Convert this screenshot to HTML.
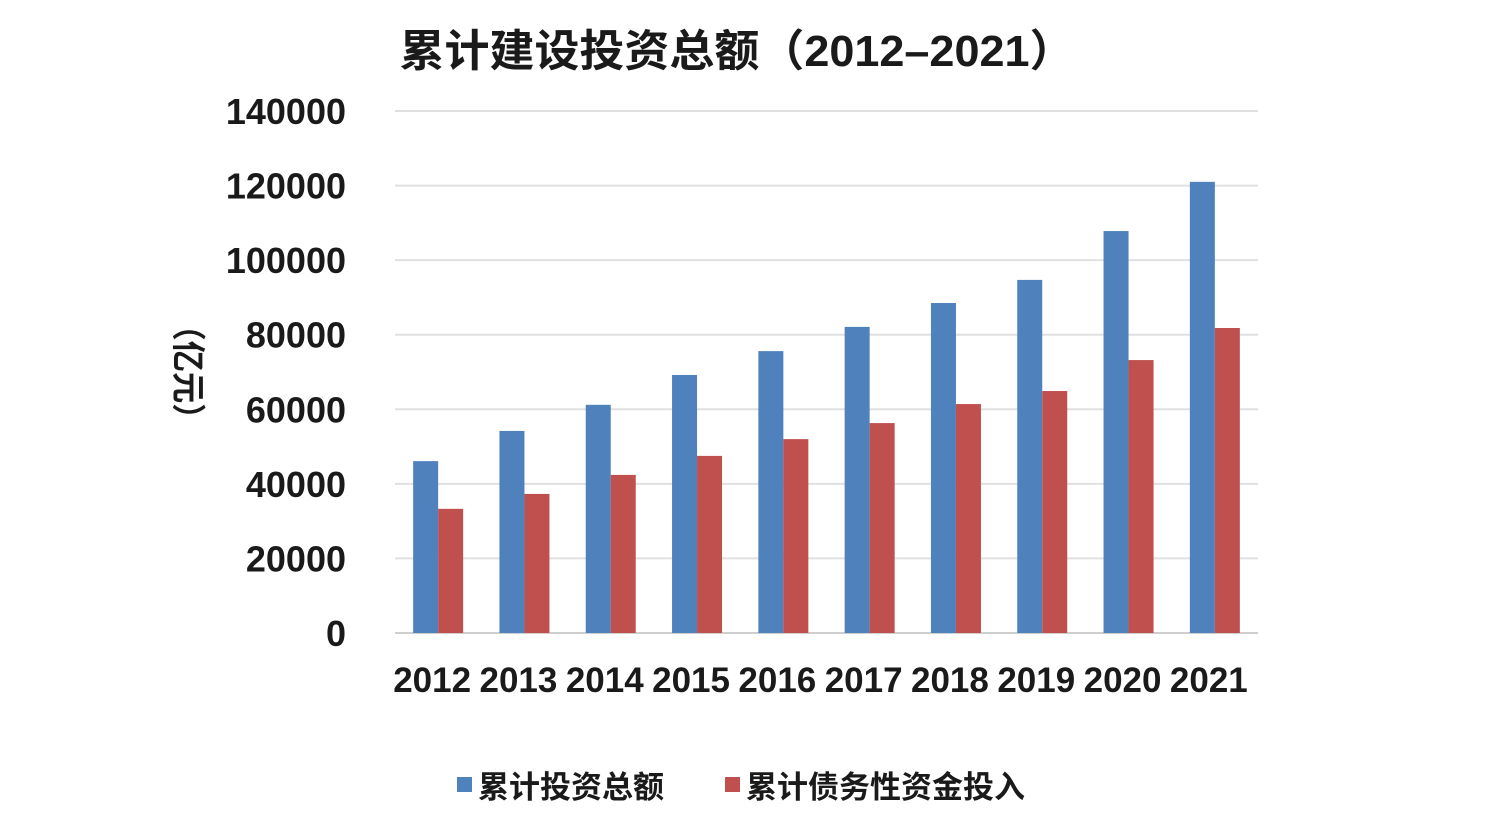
<!DOCTYPE html>
<html><head><meta charset="utf-8"><style>
html,body{margin:0;padding:0;background:#fff;}
svg text{font-family:"Liberation Sans","Noto Sans CJK SC",sans-serif;font-weight:bold;fill:#1a1a1a;}
</style></head><body>
<svg id="chart" width="1488" height="822" xmlns="http://www.w3.org/2000/svg">
<text x="737" y="66" font-size="44" text-anchor="middle" textLength="675" lengthAdjust="spacingAndGlyphs">累计建设投资总额（2012–2021）</text>
<text transform="translate(176,372) rotate(90)" font-size="34" text-anchor="middle" textLength="125" lengthAdjust="spacingAndGlyphs">（亿元）</text>
<g id="grid"></g><g id="bars"></g><g id="xlabels"></g>
<g>
<rect x="457" y="777" width="15" height="15" fill="#4f81bd"/>
<text x="478" y="798" font-size="31">累计投资总额</text>
<rect x="725" y="777" width="15" height="15" fill="#c0504d"/>
<text x="746" y="798" font-size="31">累计债务性资金投入</text>
</g>
</svg>
<script>
const categories=["2012","2013","2014","2015","2016","2017","2018","2019","2020","2021"];
const totalInvest=[46100,54200,61200,69200,75600,82100,88500,94700,107800,121000];
const debtFunding=[33300,37300,42400,47500,52000,56300,61400,64900,73200,81800];
const yTicks=[0,20000,40000,60000,80000,100000,120000,140000];
const NS="http://www.w3.org/2000/svg";
const x0=395,x1=1258,yb=633,yt=111,ymax=140000;
const y=v=>yb-(v/ymax)*(yb-yt);
const bw=(x1-x0)/categories.length;
const cx=i=>x0+bw*(i+0.5);
function mk(tag,attrs,parent){const e=document.createElementNS(NS,tag);for(const k in attrs)e.setAttribute(k,attrs[k]);parent.appendChild(e);return e;}
const grid=document.getElementById('grid'),bars=document.getElementById('bars'),xl=document.getElementById('xlabels');
yTicks.forEach(t=>{
 const l=mk('line',{x1:x0,x2:x1,y1:y(t),y2:y(t),stroke:t===0?'#cfcfcf':'#e0e0e0','stroke-width':2},grid);
 
 
 const tx=mk('text',{x:346,y:y(t)+13,'font-size':36,'text-anchor':'end'},grid);
 tx.textContent=t;
 
 
});
const w=25;
categories.forEach((c,i)=>{
 const b=mk('rect',{x:cx(i)-w,y:y(totalInvest[i]),width:w,height:yb-y(totalInvest[i]),fill:'#4f81bd'},bars);
 
 
 const r=mk('rect',{x:cx(i),y:y(debtFunding[i]),width:w,height:yb-y(debtFunding[i]),fill:'#c0504d'},bars);
 
 
 const t=mk('text',{x:cx(i)-6,y:692,'font-size':35,'text-anchor':'middle'},xl);
 t.textContent=c;
 
 
});
</script>
</body></html>
